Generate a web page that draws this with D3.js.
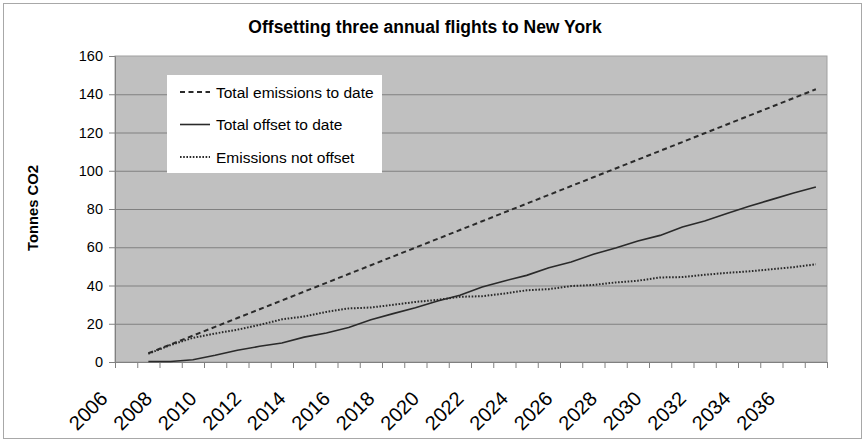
<!DOCTYPE html>
<html>
<head>
<meta charset="utf-8">
<script src="https://cdn.jsdelivr.net/npm/d3@7"></script>
<style>
    body { margin: 0; background: #fff; }
    text { font-family: "Liberation Sans", Arial, sans-serif; }
</style>
</head>
<body>
<div id="chart"></div>
<script>
// Years plotted (one point per year)
const years = [2008, 2009, 2010, 2011, 2012, 2013, 2014, 2015, 2016, 2017,
    2018, 2019, 2020, 2021, 2022, 2023, 2024, 2025, 2026, 2027,
    2028, 2029, 2030, 2031, 2032, 2033, 2034, 2035, 2036, 2037, 2038];

const totalEmissions = [4.6, 9.2, 13.8, 18.4, 23.0, 27.6, 32.2, 36.8, 41.4, 46.0,
    50.6, 55.2, 59.8, 64.4, 69.0, 73.6, 78.2, 82.8, 87.4, 92.0,
    96.6, 101.2, 105.8, 110.4, 115.0, 119.6, 124.2, 128.8, 133.4, 138.0, 142.6];

const totalOffset = [0.3, 0.3, 1.2, 3.5, 6.1, 8.2, 9.9, 13.0, 15.2, 18.0,
    22.1, 25.3, 28.4, 31.9, 34.9, 39.2, 42.4, 45.3, 49.3, 52.3,
    56.3, 59.6, 63.3, 66.2, 70.6, 73.7, 77.6, 81.4, 84.9, 88.4, 91.5];

const notOffset = [4.3, 8.9, 12.6, 14.9, 16.9, 19.4, 22.3, 23.8, 26.2, 28.0,
    28.5, 29.9, 31.4, 32.5, 34.1, 34.4, 35.8, 37.5, 38.1, 39.7,
    40.3, 41.6, 42.5, 44.2, 44.4, 45.6, 46.6, 47.4, 48.5, 49.6, 51.1];

const yTicks = [0, 20, 40, 60, 80, 100, 120, 140, 160];
const xLabels = [2006, 2008, 2010, 2012, 2014, 2016, 2018, 2020, 2022,
    2024, 2026, 2028, 2030, 2032, 2034, 2036];

const seriesNames = ['Total emissions to date', 'Total offset to date', 'Emissions not offset'];

class LineChart {
    constructor(_config) {
        this.config = {
            parentElement: _config.parentElement,
            containerWidth: 866,
            containerHeight: 442,
            margin: { top: 56, right: 39, bottom: 80, left: 115 }
        };
        this.initVis();
    }

    initVis() {
        let vis = this;
        vis.width = vis.config.containerWidth - vis.config.margin.left - vis.config.margin.right;
        vis.height = vis.config.containerHeight - vis.config.margin.top - vis.config.margin.bottom;

        vis.root = d3.select(vis.config.parentElement).append('svg')
            .attr('width', vis.config.containerWidth)
            .attr('height', vis.config.containerHeight);

        // outer chart border
        vis.root.append('rect')
            .attr('x', 3.5).attr('y', 3.5)
            .attr('width', vis.config.containerWidth - 8)
            .attr('height', vis.config.containerHeight - 7)
            .attr('fill', 'none')
            .attr('stroke', '#a8a8a8');

        vis.svg = vis.root.append('g')
            .attr('transform', `translate(${vis.config.margin.left},${vis.config.margin.top})`);

        // category bands: each year sits in the middle of its band
        vis.x = d3.scaleLinear()
            .domain([2006.5, 2038.5])
            .range([0, vis.width]);

        vis.y = d3.scaleLinear()
            .domain([0, 160])
            .range([vis.height, 0]);

        vis.series = [
            { name: seriesNames[0], values: totalEmissions, dash: '5,3.5', width: 2 },
            { name: seriesNames[1], values: totalOffset, dash: null, width: 1.6 },
            { name: seriesNames[2], values: notOffset, dash: '1.6,1.6', width: 2 }
        ];

        vis.renderVis();
    }

    renderVis() {
        let vis = this;

        // plot background
        vis.svg.append('rect')
            .attr('width', vis.width)
            .attr('height', vis.height)
            .attr('fill', '#c0c0c0')
            .attr('stroke', '#a0a0a0');

        // gridlines
        vis.svg.selectAll('.grid')
            .data(yTicks.filter(d => d > 0 && d < 160))
            .enter().append('line')
            .attr('class', 'grid')
            .attr('x1', 0)
            .attr('x2', vis.width)
            .attr('y1', d => vis.y(d) + 0.5)
            .attr('y2', d => vis.y(d) + 0.5)
            .attr('stroke', '#808080')
            .attr('stroke-width', 1);

        // y axis
        const yAxis = vis.svg.append('g')
            .call(d3.axisLeft(vis.y).tickValues(yTicks).tickSize(6).tickPadding(6));
        yAxis.select('.domain').attr('stroke', '#808080');
        yAxis.selectAll('.tick line').attr('stroke', '#808080');
        yAxis.selectAll('.tick text')
            .attr('font-size', '14.5px')
            .attr('fill', '#000');

        // x axis: ticks on band boundaries
        const xAxis = vis.svg.append('g')
            .attr('transform', `translate(0,${vis.height})`)
            .call(d3.axisBottom(vis.x).tickValues(d3.range(2006.5, 2039, 1)).tickSize(6).tickFormat(''));
        xAxis.select('.domain').attr('stroke', '#808080');
        xAxis.selectAll('.tick line').attr('stroke', '#808080');

        vis.svg.selectAll('.x-label')
            .data(xLabels)
            .enter().append('text')
            .attr('class', 'x-label')
            .attr('transform', d => `translate(${vis.x(d)},${vis.height + 33}) rotate(-45)`)
            .attr('text-anchor', 'end')
            .attr('dominant-baseline', 'central')
            .attr('font-size', '20px')
            .attr('fill', '#000')
            .text(d => d);

        // lines
        const line = d3.line()
            .x((d, i) => vis.x(years[i]))
            .y(d => vis.y(d));

        vis.svg.selectAll('.series')
            .data(vis.series)
            .enter().append('path')
            .attr('class', 'series')
            .attr('d', d => line(d.values))
            .attr('fill', 'none')
            .attr('stroke', '#2a2a2a')
            .attr('stroke-width', d => d.width)
            .attr('stroke-dasharray', d => d.dash);

        // legend
        const legend = vis.svg.append('g')
            .attr('transform', 'translate(52,19)');
        legend.append('rect')
            .attr('width', 215)
            .attr('height', 98)
            .attr('fill', '#fff');
        const items = legend.selectAll('.legend-item')
            .data(vis.series)
            .enter().append('g')
            .attr('class', 'legend-item')
            .attr('transform', (d, i) => `translate(0,${17 + i * 32.5})`);
        items.append('line')
            .attr('x1', 13).attr('x2', 43)
            .attr('stroke', '#2a2a2a')
            .attr('stroke-width', d => d.width)
            .attr('stroke-dasharray', d => d.dash);
        items.append('text')
            .attr('x', 49)
            .attr('dominant-baseline', 'central')
            .attr('font-size', '15.5px')
            .attr('fill', '#000')
            .text(d => d.name);

        // title
        vis.root.append('text')
            .attr('x', 425)
            .attr('y', 33)
            .attr('text-anchor', 'middle')
            .attr('font-size', '17.5px')
            .attr('font-weight', 'bold')
            .text('Offsetting three annual flights to New York');

        // y axis title
        vis.root.append('text')
            .attr('transform', 'translate(38,208) rotate(-90)')
            .attr('text-anchor', 'middle')
            .attr('font-size', '14.8px')
            .attr('font-weight', 'bold')
            .text('Tonnes CO2');
    }
}

new LineChart({ parentElement: '#chart' });
</script>
</body>
</html>
